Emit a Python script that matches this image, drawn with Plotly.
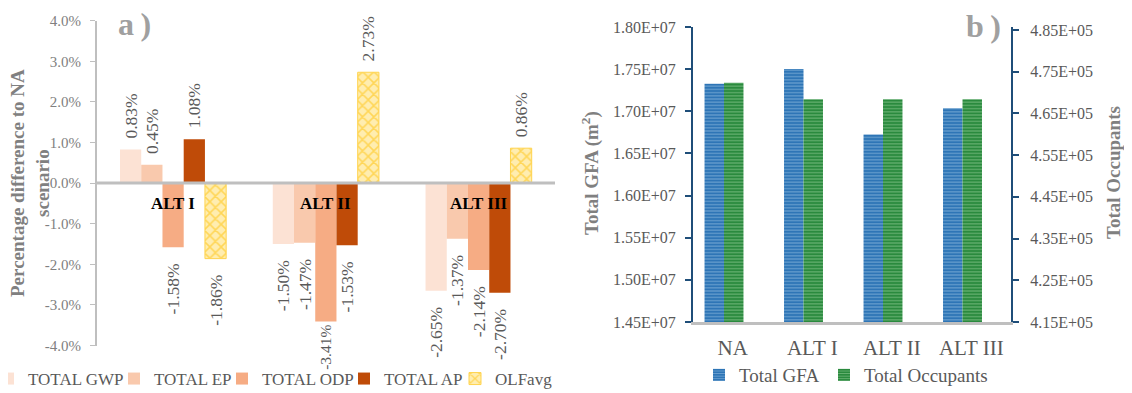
import plotly.graph_objects as go

# ---------------- data ----------------
alts = ["ALT I", "ALT II", "ALT III"]
series_a = ["TOTAL GWP", "TOTAL EP", "TOTAL ODP", "TOTAL AP", "OLFavg"]
gwp = [0.83, -1.50, -2.65]
ep = [0.45, -1.47, -1.37]
odp = [-1.58, -3.41, -2.14]
ap = [1.08, -1.53, -2.70]
olf = [-1.86, 2.73, 0.86]
pct_ticks = [-4, -3, -2, -1, 0, 1, 2, 3, 4]

scen = ["NA", "ALT I", "ALT II", "ALT III"]
series_b = ["Total GFA", "Total Occupants"]
gfa = [17326000, 17501000, 16726000, 17037000]
occ = [472330, 468370, 468370, 468370]
gfa_ticks = [1.45e7, 1.50e7, 1.55e7, 1.60e7, 1.65e7, 1.70e7, 1.75e7, 1.80e7]
occ_ticks = [4.15e5, 4.25e5, 4.35e5, 4.45e5, 4.55e5, 4.65e5, 4.75e5, 4.85e5]

# ---------------- style ----------------
PAGE_OFF = 8          # default body margin of the html page
W, H = 1132 - PAGE_OFF, 393 - PAGE_OFF
FONT = "Liberation Serif"
GRAY_T = "#595959"
GRAY_TITLE = "#808080"
colors_a = ["#FCE2D4", "#F9C9AD", "#F6AC84", "#BF4B08", "#FFC000"]
LEG_OFF = 41  # legend left -> text start offset (px)
leg_a_text_x = [29, 155, 263, 385, 496]
leg_b_text_x = [740, 865]
NB = "\u00a0"
TH = "\u2009"


def px_x(p):
    return (p - PAGE_OFF) / W


def px_y(p):
    return 1 - (p - PAGE_OFF) / H


def label(v):
    s = f"{v:.2f}%"
    if v >= 0:
        return NB + TH + s
    # no room below the axis for the deepest bar: keep it tight
    return s + (NB * 3 if v > -3.2 else "")


def label_size(v):
    return 17.5 if v > -3.2 else 15.5


fig = go.Figure()

# left panel bars
vals_a = [gwp, ep, odp, ap, olf]
wa = 0.139
for i, (name, vals, col) in enumerate(zip(series_a, vals_a, colors_a)):
    marker = dict(color=col, line=dict(width=0))
    if name == "OLFavg":
        marker = dict(color="#FFEDB0",
                      line=dict(color="#FFD34D", width=1),
                      pattern=dict(shape="x", fgcolor="#FFC000", size=8, solidity=0.35,
                                   fillmode="overlay", bgcolor="#FFEDB0"))
    fig.add_trace(go.Bar(
        x=alts, y=vals, name=name, marker=marker,
        width=wa, offset=-2.5 * wa + i * wa,
        text=[label(v) for v in vals], textposition="outside", textangle=-90,
        constraintext="none", cliponaxis=False,
        textfont=dict(family=FONT, size=[label_size(v) for v in vals], color=GRAY_T),
        xaxis="x", yaxis="y", legend="legend" if i == 0 else f"legend{i + 1}",
    ))

# right panel bars (shifted slightly left inside each category slot, as in the source)
wb = 0.245
shift_b = -0.11
fig.add_trace(go.Bar(
    x=scen, y=gfa, name=series_b[0],
    marker=dict(color="#2E75B6", line=dict(width=0),
                pattern=dict(shape="-", fgcolor="#A9CDEB", size=3.2, solidity=0.35)),
    width=wb, offset=-wb + shift_b, xaxis="x2", yaxis="y2", legend="legend6",
))
fig.add_trace(go.Bar(
    x=scen, y=occ, name=series_b[1],
    marker=dict(color="#2A8A3E", line=dict(width=0),
                pattern=dict(shape="-", fgcolor="#A8D9A8", size=3.2, solidity=0.35)),
    width=wb, offset=shift_b, xaxis="x2", yaxis="y3", legend="legend7",
))

# plot area geometry (reference pixels)
aL, aR, aT, aB = 96.7, 555, 20.7, 345.5
bL, bR, bT, bB = 693, 1011, 27, 322
occ_top = occ_ticks[0] + (occ_ticks[-1] - occ_ticks[0]) * (bB - bT) / (bB - 30)

legends = {}
for i, tx in enumerate(leg_a_text_x):
    key = "legend" if i == 0 else f"legend{i + 1}"
    legends[key] = dict(orientation="h", x=px_x(tx - LEG_OFF), y=px_y(379),
                        xanchor="left", yanchor="middle",
                        font=dict(family=FONT, size=17, color=GRAY_T),
                        bgcolor="rgba(0,0,0,0)")
for j, tx in enumerate(leg_b_text_x):
    legends[f"legend{6 + j}"] = dict(orientation="h", x=px_x(tx - LEG_OFF), y=px_y(375),
                                     xanchor="left", yanchor="middle",
                                     font=dict(family=FONT, size=19, color=GRAY_T),
                                     bgcolor="rgba(0,0,0,0)")

fig.update_layout(
    width=W, height=H, autosize=False,
    margin=dict(l=0, r=0, t=0, b=0, autoexpand=False),
    paper_bgcolor="white", plot_bgcolor="white",
    barmode="overlay",
    font=dict(family=FONT, color=GRAY_T),
    xaxis=dict(domain=[px_x(aL), px_x(aR)], anchor="y", showticklabels=False,
               showline=False, ticks="", showgrid=False, zeroline=False,
               range=[-0.5, 2.5]),
    yaxis=dict(domain=[px_y(aB), px_y(aT)], anchor="x", range=[-4, 4],
               tickvals=pct_ticks, ticktext=[f"{v:.1f}%" for v in pct_ticks],
               showgrid=False, zeroline=False, showline=True, linecolor="#BFBFBF", linewidth=1.5,
               ticks="outside", ticklen=5, tickcolor="#BFBFBF", ticklabelstandoff=6,
               tickfont=dict(family=FONT, size=15, color=GRAY_TITLE)),
    xaxis2=dict(domain=[px_x(bL), px_x(bR)], anchor="y2", range=[-0.5, 3.5],
                showline=True, linecolor="#BFBFBF", linewidth=3, ticks="", showgrid=False,
                ticklabelstandoff=5,
                tickfont=dict(family=FONT, size=21, color=GRAY_T)),
    yaxis2=dict(domain=[px_y(bB), px_y(bT)], anchor="x2", range=[gfa_ticks[0], gfa_ticks[-1]],
                tickvals=gfa_ticks, ticktext=[f"{v:.2E}" for v in gfa_ticks],
                showgrid=False, zeroline=False, showline=True, linecolor="#1F4E79", linewidth=2,
                ticks="outside", ticklen=6, tickcolor="#1F4E79", tickwidth=2, ticklabelstandoff=6,
                tickfont=dict(family=FONT, size=16, color=GRAY_T)),
    yaxis3=dict(overlaying="y2", side="right", anchor="x2", range=[occ_ticks[0], occ_top],
                tickvals=occ_ticks, ticktext=[f"{v:.2E}" for v in occ_ticks],
                showgrid=False, zeroline=False, showline=True, linecolor="#1F4E79", linewidth=2,
                ticks="outside", ticklen=6, tickcolor="#1F4E79", tickwidth=2, ticklabelstandoff=8,
                tickfont=dict(family=FONT, size=16, color=GRAY_T)),
    showlegend=True,
    **legends,
)

# zero line on top of bars (left panel)
fig.add_shape(type="line", xref="x domain", yref="y", x0=0, x1=1, y0=0, y1=0,
              line=dict(color="#BFBFBF", width=3), layer="above")

ann = []
for a in alts:
    ann.append(dict(x=a, y=-0.5, xref="x", yref="y", text=f"<b>{a}</b>", showarrow=False,
                    font=dict(family=FONT, size=17, color="black")))
ann.append(dict(x=px_x(116), y=px_y(24), xref="paper", yref="paper", text="<b>a" + TH + ")</b>",
                showarrow=False, xanchor="left", yanchor="middle",
                font=dict(family=FONT, size=32, color="#A0A0A0")))
ann.append(dict(x=px_x(964), y=px_y(26), xref="paper", yref="paper", text="<b>b" + TH + ")</b>",
                showarrow=False, xanchor="left", yanchor="middle",
                font=dict(family=FONT, size=32, color="#A0A0A0")))
ann.append(dict(x=px_x(30), y=px_y(183), xref="paper", yref="paper",
                text="<b>Percentage difference to NA<br>scenario</b>", textangle=-90,
                showarrow=False, xanchor="center", yanchor="middle",
                font=dict(family=FONT, size=19, color=GRAY_TITLE)))
ann.append(dict(x=px_x(590), y=px_y(173), xref="paper", yref="paper",
                text="<b>Total GFA (m<sup>2</sup>)</b>", textangle=-90,
                showarrow=False, xanchor="center", yanchor="middle",
                font=dict(family=FONT, size=19, color=GRAY_TITLE)))
ann.append(dict(x=px_x(1113), y=px_y(173), xref="paper", yref="paper",
                text="<b>Total Occupants</b>", textangle=-90,
                showarrow=False, xanchor="center", yanchor="middle",
                font=dict(family=FONT, size=19, color=GRAY_TITLE)))
fig.update_layout(annotations=ann)

fig.write_html("out.html")
